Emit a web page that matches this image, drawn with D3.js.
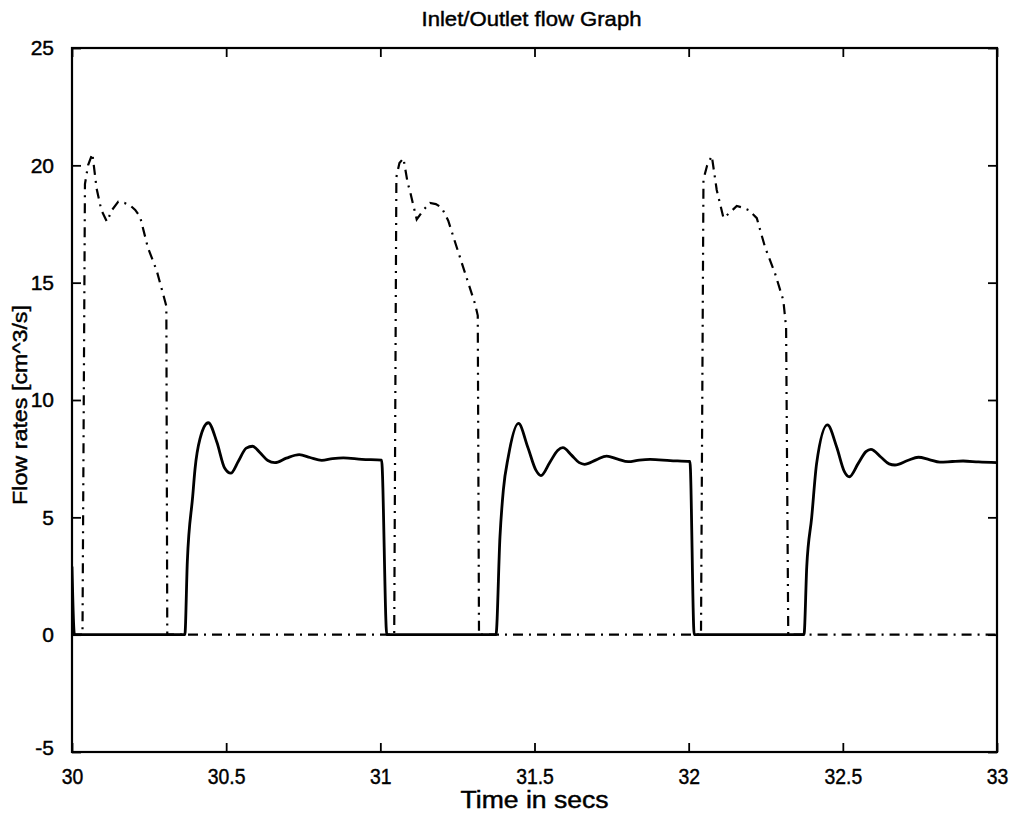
<!DOCTYPE html>
<html>
<head>
<meta charset="utf-8">
<script src="https://cdn.jsdelivr.net/npm/d3@7"></script>
<style>
  html, body { margin: 0; padding: 0; background: #fff; }
  svg { display: block; }
  text { font-family: "Liberation Sans", Arial, Helvetica, sans-serif; fill: #000; stroke: #000; stroke-width: 0.45px; }
</style>
</head>
<body>
<svg id="chart" width="1016" height="818"></svg>
<script>
// ---- data ----
const titleText = "Inlet/Outlet flow Graph";
const xLabelText = "Time in secs";
const yLabelText = "Flow rates [cm^3/s]";

const xTicks = [30, 30.5, 31, 31.5, 32, 32.5, 33];
const xTickLabels = ["30", "30.5", "31", "31.5", "32", "32.5", "33"];
const yTicks = [-5, 0, 5, 10, 15, 20, 25];
const yTickLabels = ["-5", "0", "5", "10", "15", "20", "25"];

// inlet flow (dash-dot)
const inletTime = [
  30.000, 30.034, 30.042, 30.052, 30.066, 30.080, 30.095, 30.113, 30.130, 30.150, 30.170, 30.188, 30.205, 30.221, 30.246, 30.275, 30.302, 30.306, 30.309,
  31.045, 31.052, 31.062, 31.075, 31.088, 31.098, 31.118, 31.140, 31.161, 31.180, 31.199, 31.220, 31.248, 31.280, 31.307, 31.316, 31.320,
  32.040, 32.048, 32.060, 32.075, 32.091, 32.113, 32.135, 32.156, 32.175, 32.194, 32.221, 32.248, 32.280, 32.307, 32.316, 32.323, 33.000
];
const inletFlow = [
  0, 0, 19.2, 20.0, 20.5, 19.0, 18.1, 17.6, 18.1, 18.45, 18.4, 18.3, 18.1, 17.8, 16.5, 15.5, 14.2, 14.0, 0,
  0, 19.5, 20.1, 20.3, 19.3, 18.8, 17.7, 18.1, 18.4, 18.35, 18.2, 17.65, 16.5, 15.2, 14.1, 13.6, 0,
  0, 19.4, 20.0, 20.4, 18.95, 17.75, 18.0, 18.27, 18.2, 18.1, 17.75, 16.5, 15.4, 14.25, 13.1, 0, 0
];

// outlet flow (solid)
const outletTime = [
  30.000, 30.008, 30.366, 30.374, 30.3915, 30.399, 30.415, 30.442, 30.470, 30.495, 30.515, 30.540, 30.565, 30.586, 30.610, 30.635, 30.658, 30.695, 30.737, 30.772, 30.810, 30.845, 30.880, 30.940, 31.004, 31.021,
  31.375, 31.388, 31.399, 31.415, 31.448, 31.478, 31.505, 31.521, 31.550, 31.575, 31.592, 31.620, 31.645, 31.662, 31.700, 31.734, 31.770, 31.804, 31.840, 31.875, 31.940, 32.004, 32.018,
  32.374, 32.383, 32.399, 32.415, 32.450, 32.480, 32.505, 32.521, 32.550, 32.575, 32.591, 32.625, 32.650, 32.669, 32.710, 32.745, 32.780, 32.815, 32.855, 32.890, 32.940, 33.000
];
const outletFlow = [
  2.9, 0, 0, 3.1, 5.9, 7.06, 8.34, 9.03, 8.2, 7.1, 6.88, 7.4, 7.95, 8.03, 7.75, 7.42, 7.33, 7.52, 7.67, 7.55, 7.43, 7.50, 7.53, 7.47, 7.44, 0,
  0, 4.17, 6.17, 7.58, 9.0, 8.0, 7.0, 6.78, 7.35, 7.85, 7.97, 7.65, 7.33, 7.26, 7.45, 7.61, 7.48, 7.37, 7.44, 7.47, 7.42, 7.38, 0,
  0, 2.9, 5.0, 7.3, 8.94, 8.0, 6.95, 6.73, 7.3, 7.8, 7.9, 7.55, 7.28, 7.23, 7.42, 7.56, 7.46, 7.35, 7.38, 7.40, 7.36, 7.33
];

// ---- layout ----
const W = 1016, H = 818;
const margin = { left: 72, right: 19, top: 48, bottom: 66 };
const iw = W - margin.left - margin.right;
const ih = H - margin.top - margin.bottom;

const svg = d3.select("#chart");
const g = svg.append("g").attr("transform", `translate(${margin.left},${margin.top})`);

const x = d3.scaleLinear().domain([30, 33]).range([0, iw]);
const y = d3.scaleLinear().domain([-5, 25]).range([ih, 0]);

const inletData = inletTime.map((t, i) => [t, inletFlow[i]]);
const outletData = outletTime.map((t, i) => [t, outletFlow[i]]);

svg.append("defs").append("clipPath").attr("id", "clip")
  .append("rect").attr("x", 0).attr("y", 0).attr("width", iw).attr("height", ih);

const plot = g.append("g").attr("clip-path", "url(#clip)");

const lineLinear = d3.line().x(d => x(d[0])).y(d => y(d[1]));
const lineSmooth = d3.line().x(d => x(d[0])).y(d => y(d[1])).curve(d3.curveMonotoneX);

plot.append("path").datum(inletData)
  .attr("d", lineLinear)
  .attr("fill", "none").attr("stroke", "#000").attr("stroke-width", 2.2)
  .attr("stroke-dasharray", "10,6,2,6");

plot.append("path").datum(outletData)
  .attr("d", lineSmooth)
  .attr("fill", "none").attr("stroke", "#000").attr("stroke-width", 2.8)
  .attr("stroke-linejoin", "round");

// ---- axes (box with inward ticks) ----
const tickLen = 9;
const fmtX = d => xTickLabels[xTicks.indexOf(d)];
const fmtY = d => yTickLabels[yTicks.indexOf(d)];

const axB = g.append("g").attr("transform", `translate(0,${ih})`)
  .call(d3.axisBottom(x).tickValues(xTicks).tickFormat(fmtX).tickSize(-tickLen).tickPadding(tickLen + 7));
const axT = g.append("g")
  .call(d3.axisTop(x).tickValues(xTicks).tickFormat("").tickSize(-tickLen));
const axL = g.append("g")
  .call(d3.axisLeft(y).tickValues(yTicks).tickFormat(fmtY).tickSize(-tickLen).tickPadding(tickLen + 9));
const axR = g.append("g").attr("transform", `translate(${iw},0)`)
  .call(d3.axisRight(y).tickValues(yTicks).tickFormat("").tickSize(-tickLen));

[axB, axT, axL, axR].forEach(a => {
  a.select(".domain").remove();
  a.selectAll(".tick line").attr("stroke", "#000").attr("stroke-width", 1.8);
  a.selectAll("text").attr("font-size", 21).attr("font-family", "Liberation Sans, Arial, sans-serif").attr("fill", "#000");
});
axB.selectAll("text").attr("font-size", 22).each(function () {
  const len = this.getComputedTextLength();
  d3.select(this).attr("textLength", len * 0.88).attr("lengthAdjust", "spacingAndGlyphs");
});
axL.selectAll(".tick").filter(d => d === -5).select("text").attr("dy", "0.1em");

g.append("rect").attr("x", 0).attr("y", 0).attr("width", iw).attr("height", ih)
  .attr("fill", "none").attr("stroke", "#000").attr("stroke-width", 2.2);

// ---- texts ----
svg.append("text").attr("x", margin.left + iw / 2 - 3).attr("y", 26)
  .attr("text-anchor", "middle").attr("font-size", 21).text(titleText)
  .each(function () {
    const len = this.getComputedTextLength();
    d3.select(this).attr("textLength", Math.max(len, 220)).attr("lengthAdjust", "spacingAndGlyphs");
  });

svg.append("text").attr("x", margin.left + iw / 2).attr("y", 808)
  .attr("text-anchor", "middle").attr("font-size", 23).text(xLabelText)
  .each(function () {
    d3.select(this).attr("textLength", 148).attr("lengthAdjust", "spacingAndGlyphs");
  });

svg.append("text")
  .attr("transform", `translate(27,${405})rotate(-90)`)
  .attr("text-anchor", "middle").attr("font-size", 21).text(yLabelText)
  .each(function () {
    d3.select(this).attr("textLength", 200).attr("lengthAdjust", "spacingAndGlyphs");
  });
</script>
</body>
</html>
